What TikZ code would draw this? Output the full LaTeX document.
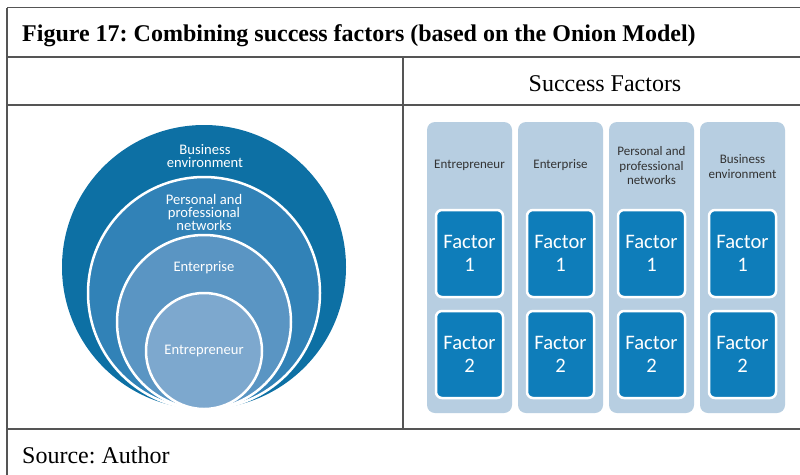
\documentclass[tikz,border=0pt]{standalone}
\usepackage{fontspec}
\setmainfont{Liberation Serif}
\newfontfamily\carlito{Carlito}
\frenchspacing
\definecolor{rulegray}{HTML}{555555}
\definecolor{onionA}{HTML}{0D70A4}
\definecolor{onionB}{HTML}{3182B7}
\definecolor{onionC}{HTML}{5A95C3}
\definecolor{onionD}{HTML}{7DA8CE}
\definecolor{colfill}{HTML}{B7CEE1}
\definecolor{factfill}{HTML}{0E7DBA}
\definecolor{hdrtext}{HTML}{333333}
\tikzset{
  rule/.style={draw=rulegray, line width=1.4pt},
  ring/.style={draw=white, line width=2.5pt},
  ringtext/.style={text=white, align=center, inner sep=0pt,
    font={\carlito\fontsize{14.6}{13.4}\selectfont}},
  colbox/.style={fill=colfill, rounded corners=8pt, draw=none},
  colhead/.style={text=hdrtext, align=center, inner sep=0pt,
    font={\carlito\fontsize{13}{14.5}\selectfont}},
  factbox/.style={fill=factfill, draw=white, line width=2.5pt, rounded corners=6pt,
    minimum width=67pt, minimum height=87pt, text=white, align=center, inner sep=0pt,
    font={\carlito\fontsize{20.6}{23}\selectfont}},
}
\begin{document}
\begin{tikzpicture}[x=1pt,y=-1pt]
\useasboundingbox (0,0) rectangle (800,474);
\clip (0,0) rectangle (800,474);
\fill[white] (0,0) rectangle (800,474);
% table rules
\draw[rule] (7,7.5) -- (812,7.5);
\draw[rule] (7,7.5) -- (7,480);
\draw[rule] (7,57) -- (812,57);
\draw[rule] (7,105) -- (812,105);
\draw[rule] (7,429) -- (812,429);
\draw[rule] (403,57) -- (403,429);
% texts of table
\node[anchor=base west, inner sep=0pt, font={\fontsize{24}{28}\selectfont\bfseries}] (title) at (22,41) {Figure 17: Combining success factors (based on the Onion Model)};
\node[anchor=base, inner sep=0pt, font={\fontsize{24}{28}\selectfont}] (sf) at (605,91) {Success Factors};
\node[anchor=base west, inner sep=0pt, font={\fontsize{24}{28}\selectfont}] (src) at (22,463) {Source: Author};
% onion
\fill[onionA] (204,267) circle[radius=142];
\filldraw[ring, fill=onionB] (204,293) circle[radius=116];
\filldraw[ring, fill=onionC] (204,322) circle[radius=87];
\filldraw[ring, fill=onionD] (204,351) circle[radius=58];
\node[ringtext] (tBE) at (205,156) {Business\\environment};
\node[ringtext] (tPN) at (204,212.5) {Personal and\\professional\\networks};
\node[ringtext] (tEP) at (204,268) {Enterprise};
\node[ringtext] (tEN) at (204,350.5) {Entrepreneur};
% columns
\foreach \i/\x in {1/427,2/518,3/609,4/700}{
  \fill[colbox] (\x,122) rectangle ++(85,291);
  \node[factbox] (f\i a) at (\x+42.5,253.5) {Factor\\1};
  \node[factbox] (f\i b) at (\x+42.5,354.5) {Factor\\2};
}
\node[colhead] (h1) at (469.5,165.5) {Entrepreneur};
\node[colhead] (h2) at (560.5,165.5) {Enterprise};
\node[colhead] (h3) at (651.5,166) {Personal and\\professional\\networks};
\node[colhead] (h4) at (742.5,166.5) {Business\\environment};
\end{tikzpicture}
\end{document}
